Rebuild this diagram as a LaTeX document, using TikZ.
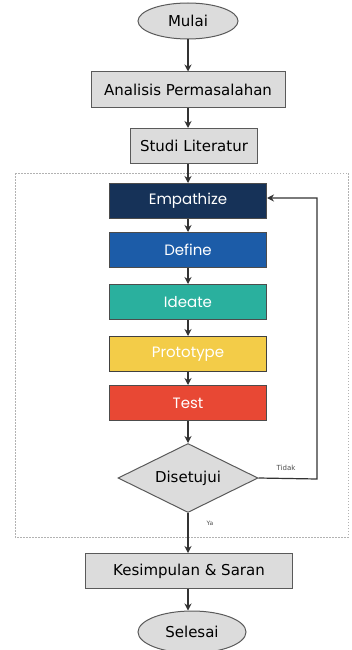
\documentclass[tikz,border=0pt]{standalone}
\usepackage{fontspec}
\setmainfont{DejaVu Sans}
\newfontfamily\popfont{Poppins}
\usetikzlibrary{shapes.geometric,arrows.meta}
\definecolor{boxgray}{RGB}{220,220,220}
\definecolor{linegray}{RGB}{90,90,90}
\definecolor{empC}{RGB}{22,50,88}
\definecolor{defC}{RGB}{28,92,168}
\definecolor{ideC}{RGB}{42,176,158}
\definecolor{proC}{RGB}{243,204,72}
\definecolor{tesC}{RGB}{232,72,52}
\tikzset{
  x=1pt,y=-1pt,
  graybox/.style={draw=linegray,line width=1pt,fill=boxgray,inner sep=0pt,font=\fontsize{15}{17}\selectfont},
  termnode/.style={ellipse,draw=linegray,line width=1pt,fill=boxgray,inner sep=0pt,font=\fontsize{15}{17}\selectfont},
  phase/.style={draw=black!70,line width=1pt,minimum width=157pt,minimum height=35pt,inner sep=0pt,text=white,font=\popfont\fontsize{15}{17}\selectfont},
  conn/.style={draw=black!80,line width=1.2pt,-{Stealth[length=7pt,width=7pt]}},
}
\begin{document}
\begin{tikzpicture}
\useasboundingbox (0,0) rectangle (352,650);
\draw[gray!60,line width=1pt,dash pattern=on 1.5pt off 1.5pt] (15,173) rectangle (348,537);
\node[termnode,minimum width=100pt,minimum height=36pt] (mulai) at (188,21) {Mulai};
\node[graybox,minimum width=194pt,minimum height=36pt] (analisis) at (188,90) {Analisis Permasalahan};
\node[graybox,minimum width=127pt,minimum height=35pt] (studi) at (194,146) {Studi Literatur};
\node[phase,fill=empC] (emp) at (188,201) {Empathize};
\node[phase,fill=defC] (def) at (188,250) {Define};
\node[phase,fill=ideC] (ide) at (188,302) {Ideate};
\node[phase,fill=proC,draw=black!75] (pro) at (188,354) {Prototype};
\node[phase,fill=tesC] (tes) at (188,403) {Test};
\node[diamond,draw=linegray,line width=1pt,fill=boxgray,minimum width=140pt,minimum height=69pt,inner sep=0pt,aspect=2,font=\fontsize{15}{17}\selectfont] (dis) at (188,478) {Disetujui};
\node[graybox,minimum width=207pt,minimum height=35pt] (kes) at (189,571) {Kesimpulan \& Saran};
\node[termnode,minimum width=108pt,minimum height=42pt] (sel) at (192,632) {Selesai};
\coordinate (c1) at (317,479);
\coordinate (c2) at (317,198);
\draw[conn] (mulai) -- (analisis.north -| mulai);
\draw[conn] (analisis.south -| mulai) -- (studi.north -| mulai);
\draw[conn] (studi.south -| mulai) -- (emp.north -| mulai);
\draw[conn] (emp) -- (def);
\draw[conn] (def) -- (ide);
\draw[conn] (ide) -- (pro);
\draw[conn] (pro) -- (tes);
\draw[conn] (tes) -- (dis);
\draw[conn] (dis.south) -- (kes.north -| dis.south);
\draw[conn] (kes.south -| mulai) -- (sel.north -| mulai);
\draw[conn] (dis.east) -- (c1) -- (c2) -- (c2 -| emp.east);
\node[font=\fontsize{7}{8}\selectfont,text=black!70] (tidak) at (286,468) {Tidak};
\node[font=\fontsize{6}{7}\selectfont,text=black!70] (ya) at (210,523) {Ya};
\end{tikzpicture}
\end{document}
